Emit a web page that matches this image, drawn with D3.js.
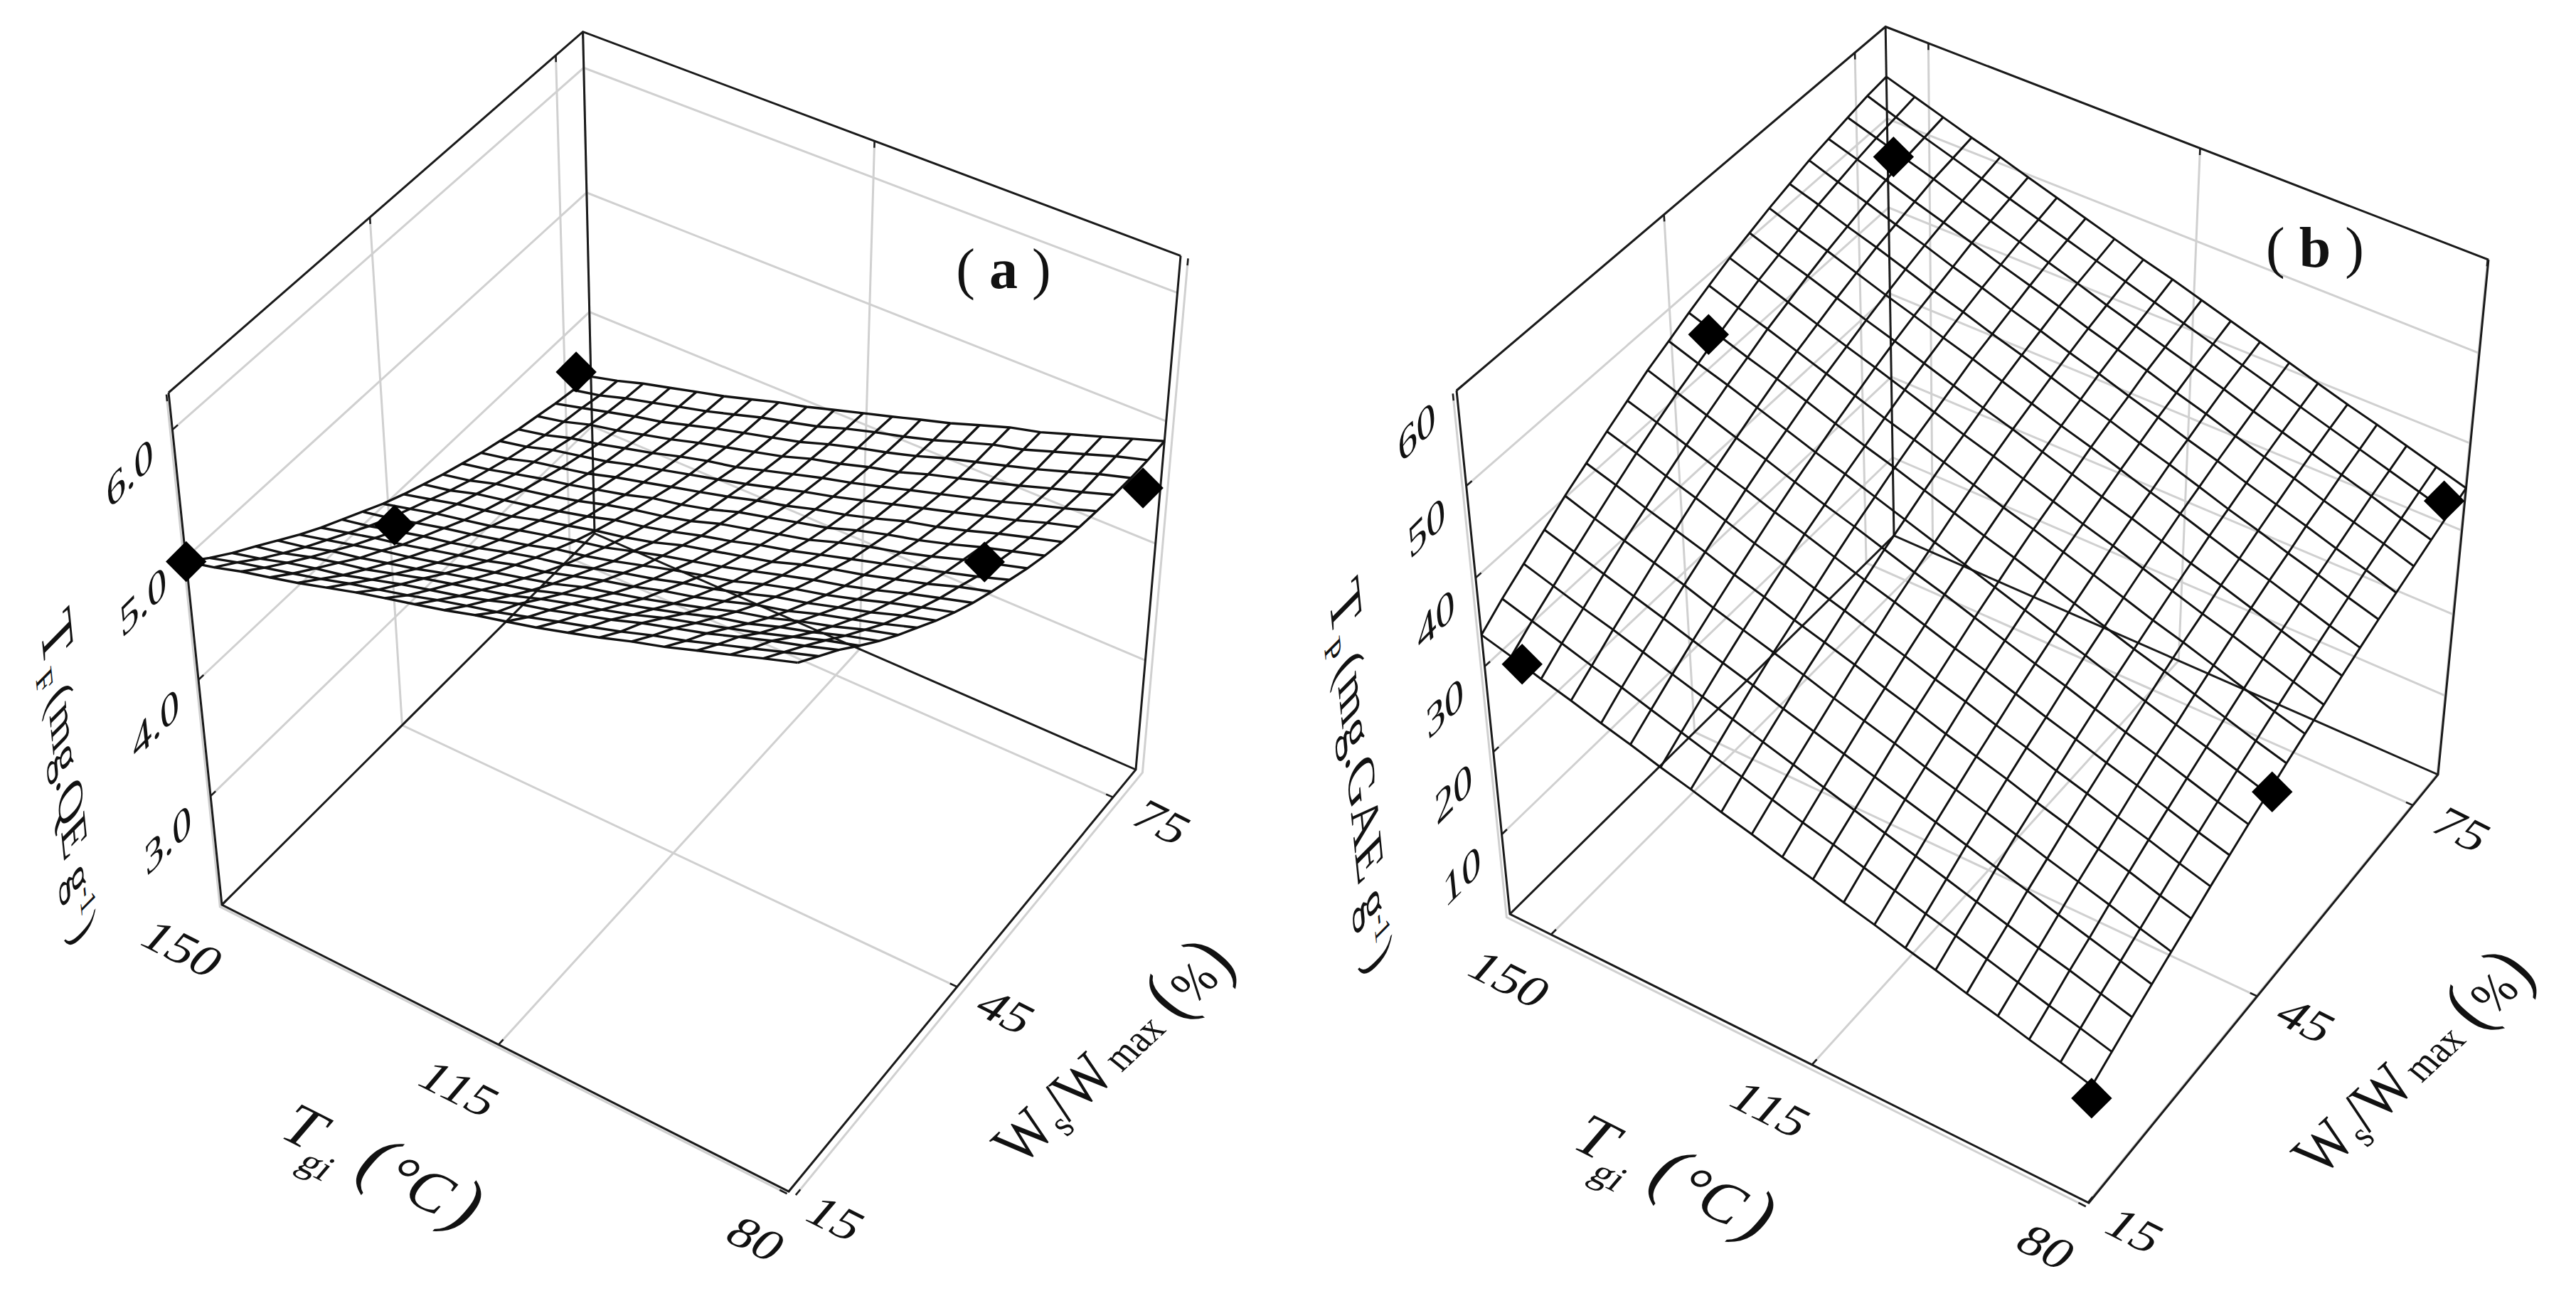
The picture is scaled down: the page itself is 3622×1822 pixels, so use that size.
<!DOCTYPE html>
<html>
<head>
<meta charset="utf-8">
<title>Response surfaces TF and TP</title>
<script src="https://cdn.jsdelivr.net/npm/d3@7"></script>
<style>
  html, body { margin: 0; background: #fff; }
  text { font-family: "Liberation Serif", serif; fill: #111; }
</style>
</head>
<body>
<svg id="chart" width="3622" height="1822"></svg>
<script>
// tick labels
var tTicks = [150, 115, 80];
var wTicks = [15, 45, 75];
var zTicksA = [3, 4, 5, 6];
var zLabelsA = ["3.0", "4.0", "5.0", "6.0"];
var zTicksB = [10, 20, 30, 40, 50, 60];
var zLabelsB = ["10", "20", "30", "40", "50", "60"];

// surface (a): T_F, one row per W level, one column per T level
var meshTA = [150,146.5,143.1,139.6,136.2,132.7,129.2,125.8,122.3,118.9,115.4,111.9,108.5,105,101.6,98.1,94.6,91.2,87.7,84.3,80.8];
var meshWA = [15.3,18.5,21.7,25,28.2,31.4,34.6,37.8,41,44.2,47.5,50.7,53.9,57.1,60.3,63.5,66.7,70,73.2,76.4,79.6];
var surfaceA = [
[4.97,5.03,5.10,5.16,5.22,5.29,5.36,5.42,5.48,5.54,5.61,5.67,5.73,5.80,5.87,5.95,6.02,6.10,6.18,6.26,6.34],
[4.84,4.91,4.97,5.03,5.09,5.16,5.22,5.28,5.35,5.41,5.47,5.54,5.61,5.68,5.75,5.83,5.90,5.98,6.06,6.14,6.22],
[4.72,4.78,4.85,4.91,4.96,5.03,5.10,5.16,5.22,5.29,5.37,5.43,5.50,5.57,5.65,5.72,5.79,5.87,5.95,6.02,6.10],
[4.61,4.66,4.73,4.79,4.84,4.91,4.98,5.04,5.10,5.16,5.24,5.31,5.37,5.44,5.52,5.59,5.66,5.73,5.81,5.89,5.96],
[4.50,4.55,4.62,4.67,4.73,4.79,4.86,4.92,4.98,5.04,5.12,5.19,5.25,5.32,5.39,5.47,5.53,5.61,5.68,5.76,5.83],
[4.39,4.45,4.51,4.57,4.62,4.68,4.75,4.81,4.87,4.93,5.01,5.07,5.13,5.20,5.27,5.35,5.41,5.49,5.56,5.64,5.71],
[4.29,4.35,4.41,4.46,4.52,4.58,4.64,4.71,4.76,4.83,4.90,4.96,5.03,5.09,5.16,5.24,5.30,5.38,5.45,5.52,5.60],
[4.20,4.25,4.31,4.37,4.42,4.48,4.55,4.61,4.66,4.73,4.80,4.86,4.93,4.99,5.06,5.14,5.20,5.27,5.34,5.42,5.49],
[4.11,4.16,4.22,4.28,4.33,4.39,4.45,4.52,4.57,4.63,4.70,4.77,4.83,4.89,4.97,5.04,5.10,5.17,5.25,5.32,5.39],
[4.02,4.08,4.14,4.19,4.24,4.31,4.37,4.43,4.48,4.55,4.62,4.68,4.74,4.81,4.88,4.95,5.01,5.08,5.16,5.23,5.30],
[3.94,4.00,4.06,4.11,4.16,4.23,4.29,4.35,4.40,4.46,4.54,4.60,4.66,4.72,4.80,4.87,4.93,5.00,5.07,5.15,5.22],
[3.87,3.92,3.99,4.04,4.09,4.15,4.21,4.28,4.33,4.39,4.46,4.52,4.59,4.65,4.72,4.79,4.86,4.93,5.00,5.07,5.15],
[3.80,3.85,3.92,3.97,4.02,4.08,4.15,4.21,4.26,4.32,4.40,4.46,4.52,4.58,4.66,4.73,4.79,4.86,4.94,5.01,5.08],
[3.74,3.79,3.85,3.91,3.96,4.02,4.08,4.15,4.20,4.26,4.34,4.40,4.46,4.52,4.60,4.67,4.73,4.80,4.88,4.95,5.02],
[3.68,3.73,3.80,3.85,3.90,3.97,4.03,4.09,4.15,4.21,4.28,4.34,4.41,4.47,4.54,4.62,4.68,4.75,4.83,4.90,4.97],
[3.63,3.68,3.75,3.80,3.85,3.92,3.98,4.04,4.10,4.16,4.23,4.30,4.36,4.43,4.50,4.57,4.64,4.71,4.78,4.86,4.93],
[3.58,3.63,3.70,3.75,3.81,3.87,3.94,4.00,4.05,4.12,4.19,4.26,4.32,4.39,4.46,4.53,4.60,4.67,4.75,4.82,4.90],
[3.54,3.59,3.66,3.71,3.77,3.83,3.90,3.96,4.02,4.08,4.16,4.22,4.29,4.35,4.43,4.50,4.57,4.64,4.72,4.79,4.87],
[3.50,3.56,3.62,3.68,3.73,3.80,3.87,3.93,3.99,4.05,4.13,4.20,4.26,4.33,4.41,4.48,4.55,4.62,4.70,4.78,4.85],
[3.47,3.52,3.59,3.65,3.71,3.77,3.84,3.91,3.97,4.03,4.11,4.18,4.24,4.31,4.39,4.47,4.53,4.61,4.69,4.77,4.84],
[3.44,3.50,3.57,3.63,3.69,3.75,3.82,3.89,3.95,4.02,4.09,4.16,4.23,4.30,4.38,4.46,4.52,4.60,4.68,4.76,4.84]
];
var pointTA = [150, 150, 150, 80.8, 80.8];
var pointWA = [15.3, 45.8, 77, 45.9, 75.9];
var pointZA = [4.97, 3.76, 3.60, 5.53, 4.64];

// surface (b): T_P
var meshTB = [155.7,151.9,148.1,144.3,140.5,136.8,133,129.2,125.4,121.6,117.8,114,110.2,106.4,102.6,98.9,95.1,91.3,87.5,83.7,79.9];
var meshWB = [15.5,18.7,22,25.2,28.4,31.7,34.9,38.1,41.3,44.6,47.8,51,54.3,57.5,60.7,64,67.2,70.4,73.6,76.9,80.1];
var surfaceB = [
[33.6,32.7,31.7,30.8,29.8,28.9,27.9,27.0,26.0,25.1,24.1,23.2,22.2,21.3,20.3,19.4,18.4,17.5,16.5,15.6,14.6],
[35.4,34.4,33.4,32.4,31.5,30.5,29.5,28.5,27.6,26.6,25.6,24.7,23.7,22.7,21.7,20.8,19.8,18.8,17.8,16.9,15.9],
[37.0,36.0,35.0,34.1,33.1,32.1,31.1,30.1,29.1,28.1,27.1,26.1,25.1,24.1,23.1,22.1,21.1,20.1,19.2,18.2,17.2],
[38.6,37.6,36.6,35.6,34.6,33.6,32.6,31.6,30.5,29.5,28.5,27.5,26.5,25.5,24.5,23.5,22.5,21.4,20.4,19.4,18.4],
[40.2,39.1,38.1,37.1,36.1,35.0,34.0,33.0,32.0,30.9,29.9,28.9,27.8,26.8,25.8,24.8,23.7,22.7,21.7,20.6,19.6],
[41.6,40.6,39.5,38.5,37.5,36.4,35.4,34.3,33.3,32.3,31.2,30.2,29.1,28.1,27.1,26.0,25.0,23.9,22.9,21.8,20.8],
[43.0,42.0,40.9,39.9,38.8,37.7,36.7,35.6,34.6,33.5,32.5,31.4,30.4,29.3,28.3,27.2,26.2,25.1,24.1,23.0,22.0],
[44.3,43.3,42.2,41.1,40.1,39.0,38.0,36.9,35.8,34.8,33.7,32.6,31.6,30.5,29.4,28.4,27.3,26.3,25.2,24.1,23.1],
[45.6,44.5,43.4,42.3,41.3,40.2,39.1,38.1,37.0,35.9,34.9,33.8,32.7,31.6,30.6,29.5,28.4,27.4,26.3,25.2,24.2],
[46.7,45.6,44.6,43.5,42.4,41.3,40.3,39.2,38.1,37.0,36.0,34.9,33.8,32.7,31.7,30.6,29.5,28.4,27.4,26.3,25.2],
[47.8,46.7,45.6,44.6,43.5,42.4,41.3,40.3,39.2,38.1,37.0,36.0,34.9,33.8,32.7,31.6,30.6,29.5,28.4,27.3,26.3],
[48.8,47.7,46.7,45.6,44.5,43.4,42.3,41.3,40.2,39.1,38.0,37.0,35.9,34.8,33.7,32.6,31.6,30.5,29.4,28.3,27.3],
[49.8,48.7,47.6,46.5,45.4,44.4,43.3,42.2,41.1,40.1,39.0,37.9,36.8,35.8,34.7,33.6,32.5,31.5,30.4,29.3,28.2],
[50.6,49.5,48.5,47.4,46.3,45.3,44.2,43.1,42.0,41.0,39.9,38.8,37.7,36.7,35.6,34.5,33.5,32.4,31.3,30.2,29.2],
[51.4,50.3,49.3,48.2,47.1,46.1,45.0,44.0,42.9,41.8,40.7,39.7,38.6,37.5,36.5,35.4,34.3,33.3,32.2,31.1,30.1],
[52.1,51.1,50.0,49.0,47.9,46.8,45.8,44.7,43.7,42.6,41.5,40.5,39.4,38.4,37.3,36.2,35.2,34.1,33.1,32.0,31.0],
[52.8,51.7,50.7,49.6,48.6,47.5,46.5,45.4,44.4,43.3,42.3,41.2,40.2,39.1,38.1,37.0,36.0,35.0,33.9,32.9,31.8],
[53.3,52.3,51.3,50.2,49.2,48.2,47.1,46.1,45.1,44.0,43.0,42.0,40.9,39.9,38.8,37.8,36.8,35.7,34.7,33.7,32.6],
[53.8,52.8,51.8,50.8,49.7,48.7,47.7,46.7,45.7,44.6,43.6,42.6,41.6,40.6,39.5,38.5,37.5,36.5,35.5,34.4,33.4],
[54.3,53.2,52.2,51.2,50.2,49.2,48.2,47.2,46.2,45.2,44.2,43.2,42.2,41.2,40.2,39.2,38.2,37.2,36.2,35.2,34.2],
[54.6,53.6,52.6,51.6,50.7,49.7,48.7,47.7,46.7,45.7,44.8,43.8,42.8,41.8,40.8,39.8,38.8,37.9,36.9,35.9,34.9]
];
var pointTB = [150.5, 153.2, 154.9, 79.9, 79.9, 79.9];
var pointWB = [15.5, 47.8, 80.1, 15.5, 45.4, 75.6];
var pointZB = [32.4, 46.3, 46.0, 13.1, 24.8, 36.5];

var svg = d3.select("#chart");
svg.append("rect").attr("width", 3622).attr("height", 1822).attr("fill", "#fff");

// perspective map of the unit cube, from the four floor corners and one top corner
function makeProjection(p0, p1, p2, p3, top, c) {
  var dx1 = p1[0] - p3[0], dy1 = p1[1] - p3[1];
  var dx2 = p2[0] - p3[0], dy2 = p2[1] - p3[1];
  var sx = p0[0] - p1[0] + p3[0] - p2[0], sy = p0[1] - p1[1] + p3[1] - p2[1];
  var det = dx1 * dy2 - dx2 * dy1;
  var a = (sx * dy2 - dx2 * sy) / det;
  var b = (dx1 * sy - sx * dy1) / det;
  var h1 = [(1 + a) * p1[0] - p0[0], (1 + a) * p1[1] - p0[1]];
  var h2 = [(1 + b) * p2[0] - p0[0], (1 + b) * p2[1] - p0[1]];
  var h3 = [(1 + c) * top[0] - p0[0], (1 + c) * top[1] - p0[1]];
  return function(u, v, w) {
    var d = 1 + a * u + b * v + c * w;
    return [(p0[0] + u * h1[0] + v * h2[0] + w * h3[0]) / d,
            (p0[1] + u * h1[1] + v * h2[1] + w * h3[1]) / d];
  };
}

function skewText(g, str, x, y, basis, size, sx) {
  var m = [basis[0][0] * sx, basis[0][1] * sx, basis[1][0], basis[1][1], x, y].join(",");
  return g.append("text")
    .attr("transform", "matrix(" + m + ")")
    .attr("text-anchor", "middle")
    .attr("y", size * 0.33)
    .attr("font-size", size)
    .text(str);
}

function drawPanel(o) {
  var g = svg.append("g");
  var proj = makeProjection(o.left, o.front, o.back, o.right, o.topLeft, o.persp);
  var x = d3.scaleLinear().domain(o.tDomain).range([0, 1]);
  var y = d3.scaleLinear().domain(o.wDomain).range([0, 1]);
  var z = d3.scaleLinear().domain(o.zDomain).range([0, 1]);
  var line = d3.line();
  var t0 = o.tDomain[0], t1 = o.tDomain[1], w0 = o.wDomain[0], w1 = o.wDomain[1], z0 = o.zDomain[0], z1 = o.zDomain[1];
  function p(t, w, v) { return proj(x(t), y(w), z(v)); }
  function path(pts, color, width) {
    g.append("path").attr("d", line(pts)).attr("fill", "none")
      .attr("stroke", color).attr("stroke-width", width);
  }

  // grey grid on the floor and the two back walls
  tTicks.forEach(function(t) {
    path([p(t, w0, z0), p(t, w1, z0), p(t, w1, z1)], "#d0d0d0", 3);
  });
  wTicks.forEach(function(w) {
    path([p(t1, w, z0), p(t0, w, z0), p(t0, w, z1)], "#d0d0d0", 3);
  });
  o.zTicks.forEach(function(v) {
    path([p(t0, w0, v), p(t0, w1, v), p(t1, w1, v)], "#d0d0d0", 3);
  });

  // box
  var boxColor = "#1a1a1a";
  path([p(t0, w0, z1), p(t0, w1, z1), p(t1, w1, z1)], boxColor, 3);
  path([p(t0, w0, z1), p(t0, w0, z0), p(t1, w0, z0), p(t1, w1, z0), p(t1, w1, z1)], boxColor, 3);
  path([p(t0, w0, z0), p(t0, w1, z0), p(t1, w1, z0)], boxColor, 3);
  path([p(t0, w1, z0), p(t0, w1, z1)], boxColor, 3);

  // small tick marks
  var dT = (t1 - t0) * 0.012, dW = (w1 - w0) * 0.012;
  o.zTicks.forEach(function(v) { path([p(t0, w0, v), p(t0, w0 + dW, v)], boxColor, 2.5); });
  tTicks.forEach(function(t) {
    path([p(t, w0, z0), p(t, w0 + dW, z0)], boxColor, 2.5);
    path([p(t, w1, z1), p(t, w1, z1 - (z1 - z0) * 0.012)], boxColor, 2.5);
  });
  wTicks.forEach(function(w) {
    path([p(t1, w, z0), p(t1 - dT, w, z0)], boxColor, 2.5);
    path([p(t0, w, z1), p(t0, w, z1 - (z1 - z0) * 0.012)], boxColor, 2.5);
  });

  // surface wires
  o.surface.forEach(function(row, j) {
    path(row.map(function(v, i) { return p(o.meshT[i], o.meshW[j], v); }), "#111", o.meshWidth);
  });
  o.meshT.forEach(function(t, i) {
    path(o.surface.map(function(row, j) { return p(t, o.meshW[j], row[i]); }), "#111", o.meshWidth);
  });

  // measured points
  var diamond = d3.symbol().type(d3.symbolSquare).size(1650);
  o.pointT.forEach(function(t, i) {
    var c = p(t, o.pointW[i], o.pointZ[i]);
    g.append("path").attr("d", diamond())
      .attr("transform", "translate(" + c[0] + "," + c[1] + ") rotate(45)")
      .attr("fill", "#000");
  });

  // tick labels and axis titles lie in the planes of the box
  var floorBasis = [[0.89, 0.45], [-0.65, 0.76]];
  var sideBasis = [[0.70, -0.71], [0.10, 0.99]];
  tTicks.forEach(function(t) {
    var q = p(t, w0, z0);
    skewText(g, String(t), q[0] + o.tOffset[0], q[1] + o.tOffset[1], floorBasis, 66, 1.14);
  });
  wTicks.forEach(function(w) {
    var q = p(t1, w, z0);
    skewText(g, String(w), q[0] + o.wOffset[0], q[1] + o.wOffset[1], floorBasis, 66, 1.14);
  });
  o.zTicks.forEach(function(v, i) {
    var q = p(t0, w0, v);
    skewText(g, o.zLabels[i], q[0] + o.zOffset[0], q[1] + o.zOffset[1], sideBasis, 62, 1.2);
  });

  var tTitle = skewText(g, "T", o.tTitle[0], o.tTitle[1], floorBasis, 86, 1.02);
  tTitle.append("tspan").attr("font-size", 54).attr("dy", 30).text("gi");
  tTitle.append("tspan").attr("font-size", 104).attr("dy", -30).attr("dx", 24).text("(");
  tTitle.append("tspan").attr("font-size", 86).attr("dx", 6).text("°C");
  tTitle.append("tspan").attr("font-size", 104).attr("dx", 6).text(")");

  var wTitle = skewText(g, "W", o.wTitle[0], o.wTitle[1], [[0.73, -0.68], [0.78, 0.63]], 88, 0.88);
  wTitle.append("tspan").attr("font-size", 56).attr("dy", 14).text("s");
  wTitle.append("tspan").attr("dy", -14).text("/W");
  wTitle.append("tspan").attr("font-size", 58).attr("dx", 8).text("max");
  wTitle.append("tspan").attr("font-size", 108).attr("dx", 22).text("(");
  wTitle.append("tspan").attr("font-size", 72).text("%");
  wTitle.append("tspan").attr("font-size", 108).text(")");

  var zTitle = skewText(g, "T", o.zTitle[0], o.zTitle[1], [[0.10, 0.99], [-0.70, 0.71]], 86, 1.05);
  zTitle.append("tspan").attr("font-size", 46).attr("dy", 18).text(o.zSub);
  zTitle.append("tspan").attr("font-size", o.zSize).attr("dy", -18).attr("dx", 12).text(o.zUnit);
  zTitle.append("tspan").attr("font-size", 42).attr("dy", -22).text("-1");
  zTitle.append("tspan").attr("font-size", o.zSize).attr("dy", 22).attr("dx", 4).text(")");

  var mark = g.append("text").attr("x", o.mark[0]).attr("y", o.mark[1])
    .attr("text-anchor", "middle").attr("font-size", 80);
  mark.append("tspan").text("( ");
  mark.append("tspan").attr("font-weight", "bold").text(o.markText);
  mark.append("tspan").text(" )");
}

drawPanel({
  left: [312, 1272], front: [1109, 1675], back: [836, 750], right: [1597, 1082],
  topLeft: [237, 552], persp: -0.098,
  tDomain: [150, 80.8], wDomain: [15.3, 79.6], zDomain: [2.02, 6.28],
  zTicks: zTicksA, zLabels: zLabelsA,
  meshT: meshTA, meshW: meshWA, surface: surfaceA, meshWidth: 3.4,
  pointT: pointTA, pointW: pointWA, pointZ: pointZA,
  tOffset: [-56, 62], wOffset: [68, 35], zOffset: [-60, 61],
  tTitle: [537, 1640], wTitle: [1565, 1480], zTitle: [100, 1091],
  zSub: "F", zUnit: "(mg.QE g", zSize: 70,
  mark: [1411, 405], markText: "a"
});

drawPanel({
  left: [2123, 1285], front: [2937, 1691], back: [2663, 753], right: [3428, 1089],
  topLeft: [2048, 549], persp: -0.1027,
  tDomain: [155.7, 79.9], wDomain: [15.5, 80.1], zDomain: [0, 60],
  zTicks: zTicksB, zLabels: zLabelsB,
  meshT: meshTB, meshW: meshWB, surface: surfaceB, meshWidth: 3,
  pointT: pointTB, pointW: pointWB, pointZ: pointZB,
  tOffset: [-59, 63], wOffset: [68, 34], zOffset: [-56, 58],
  tTitle: [2354, 1655], wTitle: [3393, 1495], zTitle: [1916, 1090],
  zSub: "P", zUnit: "(mg.GAE g", zSize: 76,
  mark: [3255, 375], markText: "b"
});
</script>
</body>
</html>
